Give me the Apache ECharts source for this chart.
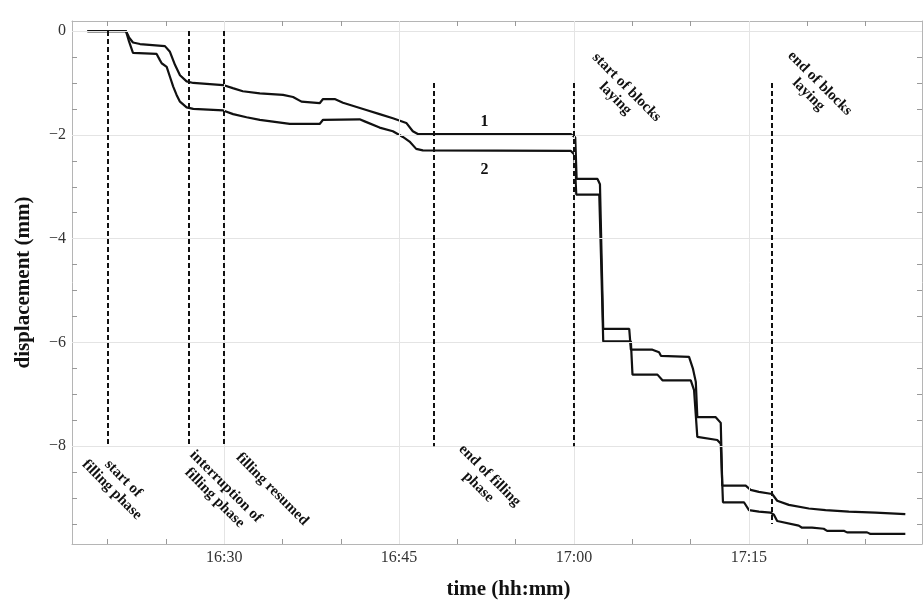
<!DOCTYPE html>
<html>
<head>
<meta charset="utf-8">
<script src="https://cdn.jsdelivr.net/npm/echarts@6/dist/echarts.min.js"></script>
<style>html,body{margin:0;padding:0;background:#fff}#c{width:924px;height:605px}</style>
</head>
<body>
<div id="c"></div>
<script>
// time in minutes after 16:00, displacement in mm
const s1Time = [18.27,21.58,21.84,22.18,22.78,24.92,25.35,25.78,26.21,26.78,27.35,29.91,30.74,31.60,33.06,35.05,35.91,36.63,38.19,38.48,39.48,40.19,42.19,43.33,44.47,45.62,46.18,46.61,59.74,60.11,60.23,62.02,62.23,62.51,64.74,64.88,66.73,67.30,67.47,69.87,70.21,70.45,70.58,72.16,72.59,72.72,74.73,75.15,75.86,77.00,77.43,78.43,80.14,81.58,83.57,85.86,88.42];
const s1Disp = [0,0,-0.12,-0.22,-0.25,-0.29,-0.40,-0.65,-0.85,-0.97,-1.00,-1.04,-1.10,-1.16,-1.20,-1.23,-1.27,-1.36,-1.39,-1.31,-1.31,-1.38,-1.52,-1.60,-1.68,-1.77,-1.93,-1.985,-1.985,-2.05,-2.85,-2.85,-2.95,-5.74,-5.74,-6.14,-6.14,-6.19,-6.26,-6.28,-6.51,-6.76,-7.44,-7.44,-7.55,-8.76,-8.76,-8.84,-8.88,-8.92,-9.05,-9.13,-9.20,-9.23,-9.26,-9.28,-9.31];
const s2Time = [18.27,21.58,21.84,22.18,24.21,24.49,24.64,25.07,25.35,25.63,25.92,26.21,26.78,27.35,29.91,30.77,31.92,33.06,35.63,38.19,38.48,41.62,42.05,43.33,44.47,45.33,45.90,46.47,47.04,59.74,60.03,60.20,62.17,62.34,62.51,64.88,65.02,67.16,67.59,70.02,70.30,70.58,72.29,72.59,72.78,74.58,75.01,75.86,76.86,77.15,77.43,77.57,79.28,79.56,80.42,80.57,81.42,81.71,83.14,83.42,85.14,85.43,88.42];
const s2Disp = [0,0,-0.20,-0.42,-0.44,-0.56,-0.62,-0.69,-0.88,-1.07,-1.23,-1.36,-1.47,-1.50,-1.53,-1.60,-1.66,-1.71,-1.79,-1.79,-1.71,-1.70,-1.74,-1.86,-1.93,-2.04,-2.13,-2.27,-2.30,-2.31,-2.38,-3.15,-3.15,-4.50,-5.98,-5.98,-6.62,-6.62,-6.73,-6.73,-6.92,-7.82,-7.88,-7.95,-9.08,-9.08,-9.23,-9.26,-9.28,-9.32,-9.44,-9.45,-9.53,-9.57,-9.57,-9.59,-9.59,-9.63,-9.63,-9.66,-9.66,-9.69,-9.69];
const seriesNames = ['1', '2'];

const eventNames = ['start of\nfilling phase', 'interruption of\nfilling phase', 'filling resumed', 'end of filling\nphase', 'start of blocks\nlaying', 'end of blocks\nlaying'];
const eventTimes = [20, 27, 30, 48, 60, 77];
const eventTop = [0, 0, 0, -1, -1, -1];
const eventBottom = [-8, -8, -8, -8, -8, -9.5];

const xTickValues = [20,25,30,35,40,45,50,55,60,65,70,75,80,85];
const xLabelValues = [30,45,60,75];
const yTickValues = [0,-0.5,-1,-1.5,-2,-2.5,-3,-3.5,-4,-4.5,-5,-5.5,-6,-6.5,-7,-7.5,-8,-8.5,-9,-9.5];
const yLabelValues = [0,-2,-4,-6,-8];
const xMin = 16.95, xMax = 89.85, yMin = -9.884, yMax = 0.194;

// style-only (pixel offsets for annotation texts)
const eventLabelAnchorBottom = [true, true, true, true, false, false];
const eventLabelOffset = [[10,38],[31,46],[48,43],[50,35],[47,10],[42,6]];
const seriesLabelAt = 52.33;
const seriesLabelOffset = [-12, 19];

const SERIF = '"Liberation Serif","Times New Roman",Times,serif';
const fmtTime = v => { const h = 16 + Math.floor(v / 60); const m = Math.round(v % 60); return h + ':' + (m < 10 ? '0' : '') + m; };
const fmtY = v => (v < 0 ? '\u2212' + Math.abs(v) : String(v));

const chart = echarts.init(document.getElementById('c'), null, {renderer: 'canvas'});
const frameColor = '#b5b5b5';
const gridColor = '#e4e4e4';

function xAxisDef(pos, showLabel) {
  return {
    type: 'value', position: pos, min: xMin, max: xMax,
    axisLine: {show: true, onZero: false, lineStyle: {color: frameColor, width: 1}},
    axisTick: {show: true, inside: true, length: 5, customValues: xTickValues, lineStyle: {color: '#999', width: 1}},
    axisLabel: {show: showLabel, customValues: xLabelValues, formatter: fmtTime, color: '#333', fontFamily: SERIF, fontSize: 16, margin: 6},
    splitLine: {show: false},
    name: showLabel ? 'time (hh:mm)' : '', nameLocation: 'middle', nameGap: 35,
    nameTextStyle: {fontFamily: SERIF, fontWeight: 'bold', fontSize: 21, color: '#111', padding: [0, 0, 0, 23]}
  };
}
function yAxisDef(pos, showLabel) {
  return {
    type: 'value', position: pos, min: yMin, max: yMax,
    axisLine: {show: true, onZero: false, lineStyle: {color: frameColor, width: 1}},
    axisTick: {show: true, inside: true, length: 5, customValues: yTickValues, lineStyle: {color: '#999', width: 1}},
    axisLabel: {show: showLabel, customValues: yLabelValues, formatter: fmtY, color: '#333', fontFamily: SERIF, fontSize: 16, margin: 6},
    splitLine: {show: false},
    name: showLabel ? 'displacement (mm)' : '', nameLocation: 'middle', nameGap: 38, nameRotate: 90,
    nameTextStyle: {fontFamily: SERIF, fontWeight: 'bold', fontSize: 21, color: '#111'}
  };
}

const gridLines = [];
xLabelValues.forEach(v => gridLines.push({xAxis: v}));
yLabelValues.forEach(v => gridLines.push({yAxis: v}));

const eventLines = eventTimes.map((t, i) => [{coord: [t, eventTop[i]]}, {coord: [t, eventBottom[i]]}]);

const option = {
  animation: false,
  backgroundColor: '#ffffff',
  grid: {left: 72, right: 2, top: 21, bottom: 59},
  xAxis: [xAxisDef('bottom', true), xAxisDef('top', false)],
  yAxis: [yAxisDef('left', true), yAxisDef('right', false)],
  series: [
    {
      type: 'line', name: 'grid', data: s1Time.map((t, i) => [t, s1Disp[i]]), z: 1,
      showSymbol: false, silent: true, lineStyle: {opacity: 0},
      markLine: {silent: true, symbol: 'none', label: {show: false}, animation: false,
        lineStyle: {color: gridColor, width: 1, type: 'solid'}, data: gridLines}
    },
    {
      type: 'line', name: 'events', data: [], z: 2, showSymbol: false, silent: true,
      markLine: {silent: true, symbol: 'none', label: {show: false}, animation: false,
        lineStyle: {color: '#111', width: 2, type: [5, 3]}, data: eventLines}
    },
    {
      type: 'line', name: seriesNames[0], data: s1Time.map((t, i) => [t, s1Disp[i]]), z: 3,
      showSymbol: false, lineStyle: {color: '#111', width: 2.2}
    },
    {
      type: 'line', name: seriesNames[1], data: s2Time.map((t, i) => [t, s2Disp[i]]), z: 3,
      showSymbol: false, lineStyle: {color: '#111', width: 2.2}
    }
  ]
};
chart.setOption(option);

// annotations
const graphics = [];
eventNames.forEach((name, i) => {
  const anchorV = eventLabelAnchorBottom[i] ? eventBottom[i] : eventTop[i];
  const p = chart.convertToPixel({gridIndex: 0}, [eventTimes[i], anchorV]);
  graphics.push({
    type: 'text', x: p[0] + eventLabelOffset[i][0], y: p[1] + eventLabelOffset[i][1],
    rotation: -Math.PI / 4, z: 10,
    style: {text: name, textAlign: 'center', textVerticalAlign: 'middle', fill: '#111',
      font: 'bold 15px ' + SERIF, lineHeight: 16}
  });
});
function valueAt(times, disps, t) {
  for (let i = 0; i < times.length - 1; i++) {
    if (t >= times[i] && t <= times[i + 1]) return disps[i];
  }
  return disps[disps.length - 1];
}
[[s1Time, s1Disp], [s2Time, s2Disp]].forEach((s, k) => {
  const p = chart.convertToPixel({gridIndex: 0}, [seriesLabelAt, valueAt(s[0], s[1], seriesLabelAt)]);
  graphics.push({
    type: 'text', x: p[0], y: p[1] + seriesLabelOffset[k], z: 10,
    style: {text: seriesNames[k], textAlign: 'center', textVerticalAlign: 'middle', fill: '#111',
      font: 'bold 16px ' + SERIF}
  });
});
chart.setOption({graphic: graphics});
</script>
</body>
</html>
